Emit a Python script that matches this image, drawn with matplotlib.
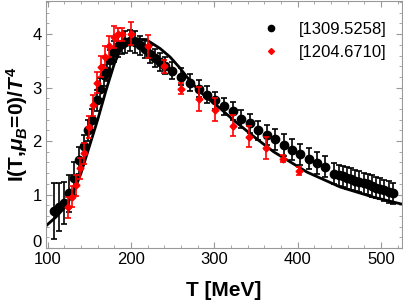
import matplotlib
matplotlib.use("Agg")
import matplotlib.pyplot as plt
from matplotlib.lines import Line2D
from matplotlib.ticker import MultipleLocator
from matplotlib.transforms import ScaledTranslation

plt.rcParams['font.family'] = ['Liberation Sans', 'DejaVu Sans']
plt.rcParams['mathtext.fontset'] = 'custom'
plt.rcParams['mathtext.rm'] = 'Liberation Sans:bold'
plt.rcParams['mathtext.it'] = 'Liberation Sans:bold:italic'
plt.rcParams['mathtext.bf'] = 'Liberation Sans:bold'

# black points [1309.5258]
T_wb = [108, 114, 119.5, 125, 131, 137, 143, 148, 153, 159, 163, 167, 171, 175,
        180, 184, 189, 193, 199, 205, 211, 217, 223, 229, 235, 241, 249, 260,
        271, 281, 291, 301, 311, 322, 332, 343, 352, 363, 373, 383, 393, 403,
        413, 423, 433, 444, 449, 454, 459, 464, 469, 474, 479, 484, 489, 494,
        499, 504, 509, 514]
I_wb = [0.69, 0.76, 0.84, 1.02, 1.30, 1.64, 1.90, 2.20, 2.40, 2.76, 2.98, 3.23,
        3.32, 3.51, 3.67, 3.78, 3.82, 3.85, 3.88, 3.85, 3.79, 3.73, 3.63, 3.55,
        3.48, 3.41, 3.32, 3.20, 3.09, 2.98, 2.87, 2.76, 2.65, 2.56, 2.41, 2.33,
        2.20, 2.11, 2.03, 1.93, 1.84, 1.75, 1.67, 1.59, 1.52, 1.39, 1.36, 1.34,
        1.31, 1.29, 1.26, 1.24, 1.21, 1.19, 1.16, 1.13, 1.11, 1.08, 1.05, 1.02]
E_wb = [0.52, 0.45, 0.40, 0.35, 0.30, 0.25, 0.22, 0.20, 0.20, 0.20, 0.20, 0.20,
        0.20, 0.20, 0.20, 0.20, 0.20, 0.20, 0.20, 0.20, 0.18, 0.18, 0.17, 0.17,
        0.16, 0.16, 0.16, 0.16, 0.16, 0.16, 0.16, 0.16, 0.16, 0.17, 0.17, 0.18,
        0.18, 0.19, 0.19, 0.20, 0.20, 0.20, 0.20, 0.20, 0.20, 0.20, 0.20, 0.20,
        0.20, 0.20, 0.20, 0.20, 0.20, 0.20, 0.20, 0.20, 0.20, 0.20, 0.20, 0.20]

# red points [1204.6710]
T_red = [124, 129, 134, 139, 144, 149, 154, 159, 164, 169, 174, 179, 184, 189,
         200, 220, 240, 260, 281, 301, 322, 342, 362, 382, 402]
I_red = [0.76, 0.96, 1.17, 1.49, 1.77, 2.26, 2.67, 3.09, 3.39, 3.57, 3.77, 3.95,
         4.00, 4.00, 4.01, 3.77, 3.40, 2.98, 2.79, 2.59, 2.29, 2.08, 1.87, 1.67,
         1.44]
E_red = [0.20, 0.20, 0.20, 0.20, 0.20, 0.20, 0.20, 0.20, 0.20, 0.20, 0.20, 0.20,
         0.12, 0.12, 0.22, 0.22, 0.12, 0.10, 0.22, 0.22, 0.20, 0.20, 0.20, 0.07,
         0.08]

# model curve
T_curve = [97, 110, 121, 130, 140, 150, 160, 170, 180, 190, 197, 205, 220, 235,
           247, 259, 271, 283, 295, 307, 323, 350, 371, 411, 451, 491, 525]
I_curve = [0.40, 0.58, 0.77, 1.00, 1.40, 1.90, 2.40, 2.95, 3.45, 3.80, 3.90, 3.92,
           3.88, 3.73, 3.57, 3.36, 3.12, 2.92, 2.76, 2.61, 2.39, 2.05, 1.80, 1.42,
           1.14, 0.95, 0.82]

labels = ['[1309.5258]', '[1204.6710]']

fig = plt.figure(figsize=(4.03, 3.06), dpi=100)
ax = fig.add_axes([46/403, 1 - 248/306, 356/403, 247/306])

ax.plot(T_curve, I_curve, color='black', lw=2, zorder=1)
ax.errorbar(T_wb, I_wb, yerr=E_wb, fmt='o', color='black', ms=6,
            elinewidth=1.2, capsize=2.2, capthick=1.2, zorder=2)
ax.errorbar(T_red, I_red, yerr=E_red, fmt='D', color='red', ms=3.5,
            elinewidth=1.2, capsize=2.2, capthick=1.2, zorder=3)

ax.set_xlim(98, 525)
ax.set_ylim(0, 4.62)
ax.xaxis.set_major_locator(MultipleLocator(100))
ax.xaxis.set_minor_locator(MultipleLocator(20))
ax.yaxis.set_major_locator(MultipleLocator(1))
ax.yaxis.set_minor_locator(MultipleLocator(0.2))
ax.tick_params(which='both', direction='in', top=True, right=True,
               color='#999999', labelsize=12, labelcolor='black', pad=3)
ax.tick_params(which='major', length=4, width=0.8)
ax.tick_params(which='minor', length=2, width=0.6)
for s in ax.spines.values():
    s.set_color('#999999')
    s.set_linewidth(0.8)

# the "0" label sits a little higher, like in the original frame
fig.canvas.draw()
for lab in ax.get_yticklabels():
    if lab.get_text() == '0':
        lab.set_transform(lab.get_transform() + ScaledTranslation(0, 5/72, fig.dpi_scale_trans))

ax.set_xlabel('T [MeV]', fontsize=15, fontweight='bold', labelpad=10)
ax.set_ylabel(r'I(T,$\mu_B$=0)/$T^4$', fontsize=15, fontweight='bold', labelpad=2)

handles = [Line2D([], [], ls='none', marker='o', color='black', ms=4.5),
           Line2D([], [], ls='none', marker='D', color='red', ms=3)]
ax.legend(handles, labels, loc='upper right', bbox_to_anchor=(1.0, 0.975),
          frameon=False, fontsize=12, handletextpad=1.2, handlelength=1.0,
          labelspacing=0.45)

fig.savefig('out.png', dpi=100)
